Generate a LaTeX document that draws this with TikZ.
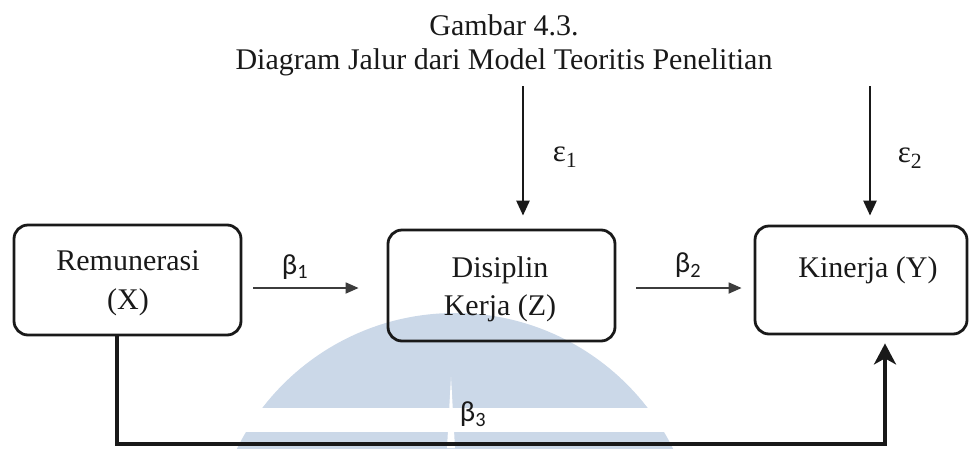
\documentclass[tikz,border=0pt]{standalone}
\usepackage{fontspec}
\setmainfont{Liberation Serif}
\newfontfamily\grk{Carlito}
\usetikzlibrary{arrows.meta}
\definecolor{wmblue}{RGB}{203,216,232}
\definecolor{ink}{RGB}{25,25,25}
\begin{document}
\begin{tikzpicture}[x=1pt,y=-1pt,
  box/.style={draw=ink, line width=2.8pt, rounded corners=14pt, inner sep=0pt},
  lbl/.style={font=\fontsize{30}{36}\selectfont, inner sep=0pt, anchor=base, text=ink},
  glbl/.style={font=\grk\fontsize{29}{32}\selectfont, inner sep=0pt, text=ink},
  elbl/.style={font=\fontsize{31}{34}\selectfont, inner sep=0pt, text=ink},
  thinarr/.style={line width=1.8pt, draw=ink!85, -{Triangle[length=13pt,width=11pt]}},
  earr/.style={line width=2.6pt, draw=ink, -{Triangle[length=15pt,width=13pt]}},
  botarr/.style={line width=3.6pt, draw=ink, -{Stealth[length=21pt,width=22pt,inset=6pt]}}]
\useasboundingbox (0,0) rectangle (970,448);
% watermark
\begin{scope}
\clip (0,0) rectangle (970,448);
\fill[wmblue] (455,556) circle (243pt);
\fill[white] (0,408) rectangle (970,432);
\fill[white] (451,377) -- (447,448) -- (455,448) -- cycle;
\end{scope}
% title
\node[lbl] (t1) at (504,35) {Gambar 4.3.};
\node[lbl] (t2) at (504,69) {Diagram Jalur dari Model Teoritis Penelitian};
% boxes
\node[box, minimum width=227pt, minimum height=110pt] (X) at (127.5,280) {};
\node[box, minimum width=227pt, minimum height=111pt] (Z) at (501.5,285.5) {};
\node[box, minimum width=212pt, minimum height=108pt] (Y) at (861,280) {};
% box texts
\node[lbl] (Xa) at (128,270) {Remunerasi};
\node[lbl] (Xb) at (128,309) {(X)};
\node[lbl] (Za) at (500,277) {Disiplin};
\node[lbl] (Zb) at (500,315) {Kerja (Z)};
\node[lbl] (Ya) at (868,277) {Kinerja (Y)};
% error sources
\coordinate (e1) at (523,86);
\coordinate (e2) at (870,86);
\coordinate (b3c) at (117,444);
% arrows
\draw[thinarr, shorten <=11pt, shorten >=28pt] ([yshift=-8pt]X.east) -- ([yshift=-2.5pt]Z.west);
\draw[thinarr, shorten <=20pt, shorten >=12pt] ([yshift=-2.5pt]Z.east) -- ([yshift=-8pt]Y.west);
\draw[earr, shorten >=13pt] (e1) -- (e1 |- Z.north);
\draw[earr, shorten >=9pt] (e2) -- (e2 |- Y.north);
\draw[botarr, shorten >=8pt] ([xshift=-10.5pt]X.south) |- ([xshift=24pt]Y.south |- b3c) -- ([xshift=24pt]Y.south);
% labels
\node[glbl] (b1) at (295,267) {β\textsubscript{1}};
\node[glbl] (b2) at (688,265) {β\textsubscript{2}};
\node[glbl] (b3) at (473,414) {β\textsubscript{3}};
\node[elbl] (eps1) at (565,157) {ε\textsubscript{1}};
\node[elbl] (eps2) at (910,158) {ε\textsubscript{2}};
\end{tikzpicture}
\end{document}
